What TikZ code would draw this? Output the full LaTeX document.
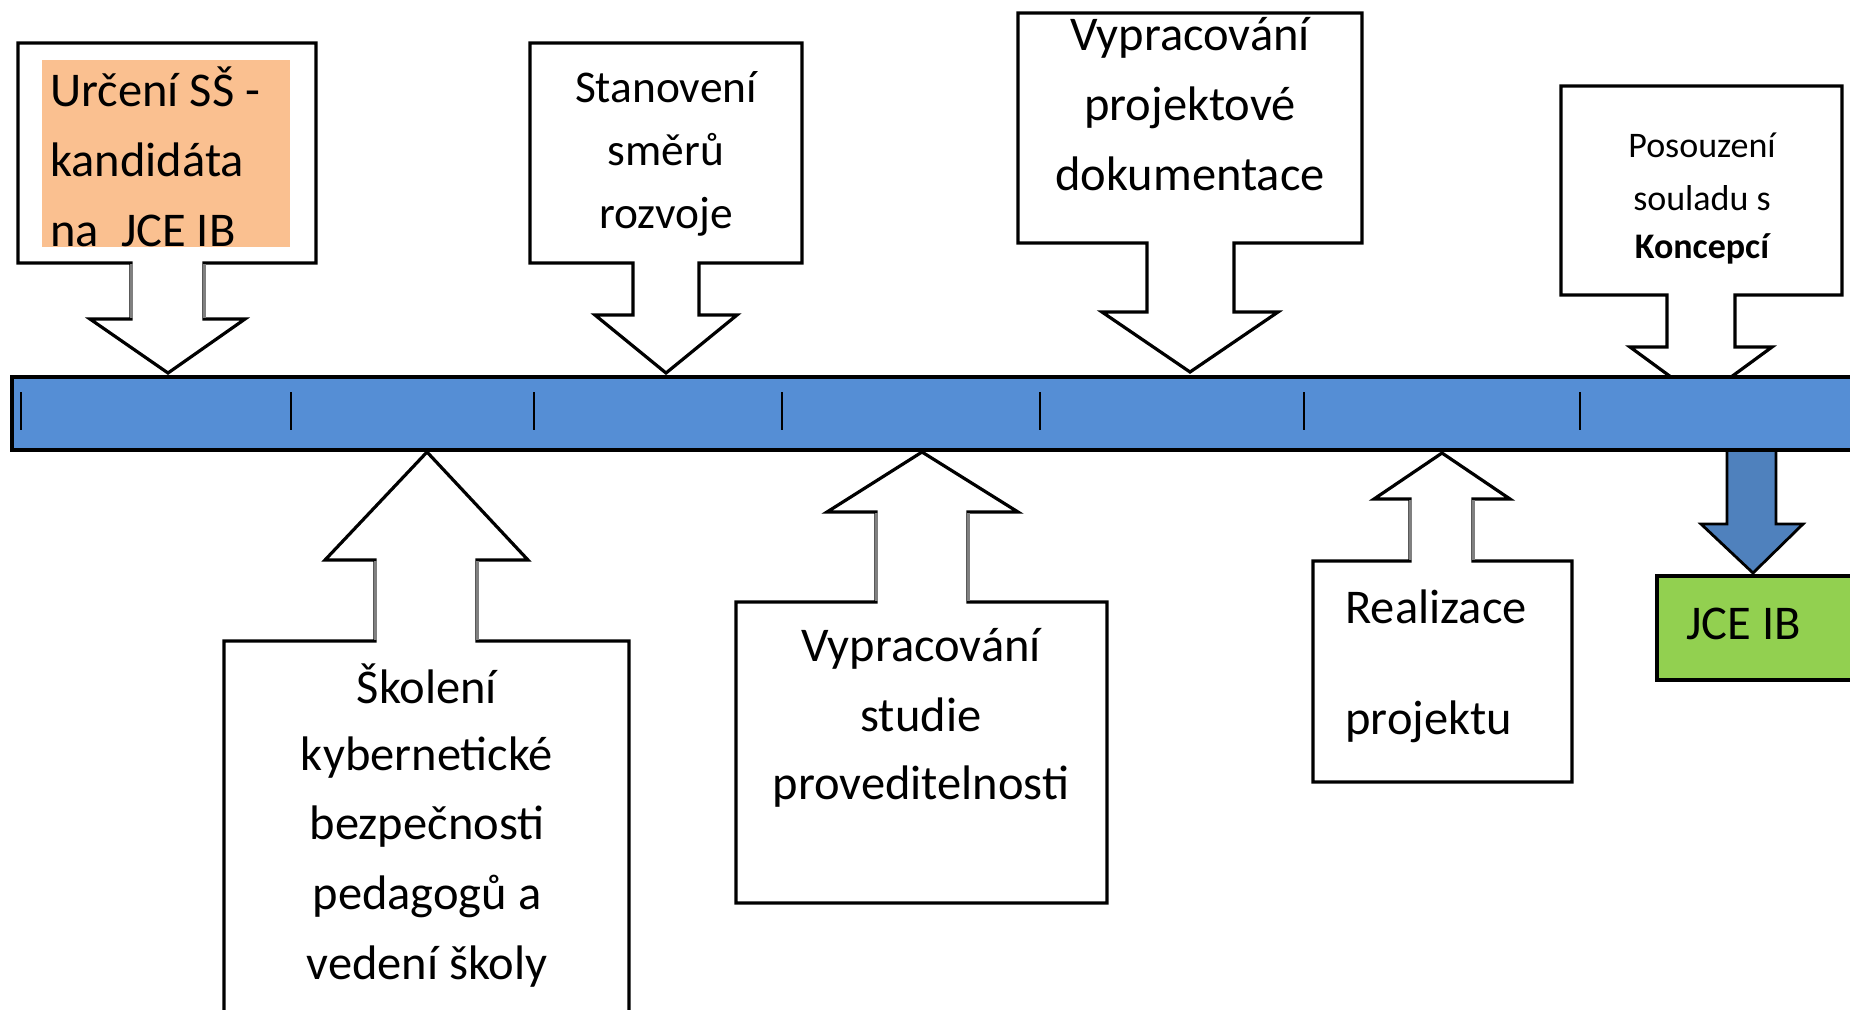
\documentclass[tikz,border=0pt]{standalone}
\usepackage{fontspec}
\setmainfont{Carlito}
\definecolor{barblue}{RGB}{85,142,213}
\definecolor{arrowblue}{RGB}{79,129,189}
\definecolor{lgreen}{RGB}{146,208,80}
\definecolor{lorange}{RGB}{250,192,144}
\begin{document}
\begin{tikzpicture}[x=0.5pt,y=-0.5pt,
  callout/.style={fill=white,draw=black,line width=1.6pt,line join=miter},
  shaftline/.style={draw=black!50,line width=1.5pt},
  txt/.style={inner sep=0pt,anchor=base,font=\fontsize{24.25pt}{30pt}\selectfont},
  txtl/.style={txt,anchor=base west},
  txtsm/.style={txt,font=\fontsize{22.7pt}{28pt}\selectfont},
  txtxs/.style={txt,font=\fontsize{18pt}{22pt}\selectfont},
  tick/.style={draw=black,line width=1.4pt}]
\useasboundingbox (0,0) rectangle (1850,1009);
\clip (0,0) rectangle (1850,1009);

% callout 1
\draw[callout] (18,43) -- (316,43) -- (316,263) -- (204,263) -- (204,319) -- (245,319) -- (168,373) -- (90,319) -- (131,319) -- (131,263) -- (18,263) -- cycle;
\draw[shaftline] (131,264) -- (131,318) (204,264) -- (204,318);
\fill[lorange] (42,60) rectangle (290,247);
\node[txtl] (c1a) at (50,106) {Určení SŠ -};
\node[txtl] (c1b) at (50,176) {kandidáta};
\begin{scope}
\clip (42,60) rectangle (290,247);
\node[txtl] (c1c) at (50,246) {na~ JCE IB};
\end{scope}

% callout 2
\draw[callout] (530,43) -- (802,43) -- (802,263) -- (699,263) -- (699,315) -- (737,315) -- (666,373) -- (595,315) -- (633,315) -- (633,263) -- (530,263) -- cycle;
\node[txtsm] (c2a) at (666,102) {Stanovení};
\node[txtsm] (c2b) at (666,165) {směrů};
\node[txtsm] (c2c) at (666,228) {rozvoje};

% callout 3
\draw[callout] (1018,13) -- (1362,13) -- (1362,243) -- (1234,243) -- (1234,312) -- (1278,312) -- (1190,372) -- (1102,312) -- (1147,312) -- (1147,243) -- (1018,243) -- cycle;
\node[txt] (c3a) at (1190,50) {Vypracování};
\node[txt] (c3b) at (1190,120) {projektové};
\node[txt] (c3c) at (1190,190) {dokumentace};

% callout 4 (tip hidden under the bar)
\draw[callout] (1561,86) -- (1842,86) -- (1842,295) -- (1735,295) -- (1735,347) -- (1772,347) -- (1701,399) -- (1630,347) -- (1667,347) -- (1667,295) -- (1561,295) -- cycle;
\node[txtxs] (c4a) at (1702,157) {Posouzení};
\node[txtxs] (c4b) at (1702,210) {souladu s};
\node[txtxs] (c4c) at (1702,258) {\bfseries Koncepcí};

% green box and blue arrow
\draw[fill=lgreen,draw=black,line width=1.6pt] (1657,576) rectangle (1870,680);
\node[txtl] (jce) at (1686,639) {JCE IB};
\draw[fill=arrowblue,draw=black,line width=1.4pt] (1727,440) -- (1727,524) -- (1701,524) -- (1753,573) -- (1803,524) -- (1776,524) -- (1776,440);

% timeline bar
\draw[fill=barblue,draw=black,line width=1.6pt] (12,377) rectangle (1870,450);
\foreach \tx in {21,291,534,782,1040,1304,1580}
  \draw[tick] (\tx,392) -- (\tx,430);

% callout 5
\draw[callout] (427,452) -- (528,560) -- (477,560) -- (477,641) -- (629,641) -- (629,1030) -- (224,1030) -- (224,641) -- (375,641) -- (375,560) -- (325,560) -- cycle;
\draw[shaftline] (375,561) -- (375,640) (477,561) -- (477,640);
\node[txt] (c5a) at (427,703) {Školení};
\node[txt] (c5b) at (427,770) {kybernetické};
\node[txt] (c5c) at (427,839) {bezpečnosti};
\node[txt] (c5d) at (427,909) {pedagogů a};
\node[txt] (c5e) at (427,979) {vedení školy};

% callout 6
\draw[callout] (922,452) -- (1018,512) -- (968,512) -- (968,602) -- (1107,602) -- (1107,903) -- (736,903) -- (736,602) -- (876,602) -- (876,512) -- (827,512) -- cycle;
\draw[shaftline] (876,513) -- (876,601) (968,513) -- (968,601);
\node[txt] (c6a) at (921,661) {Vypracování};
\node[txt] (c6b) at (921,731) {studie};
\node[txt] (c6c) at (921,799) {proveditelnosti};

% callout 7
\draw[callout] (1442,453) -- (1510,499) -- (1473,499) -- (1473,561) -- (1572,561) -- (1572,782) -- (1313,782) -- (1313,561) -- (1410,561) -- (1410,499) -- (1374,499) -- cycle;
\draw[shaftline] (1410,500) -- (1410,560) (1473,500) -- (1473,560);
\node[txtl] (c7a) at (1345,623) {Realizace};
\node[txtl] (c7b) at (1345,734) {projektu};
\end{tikzpicture}
\end{document}
